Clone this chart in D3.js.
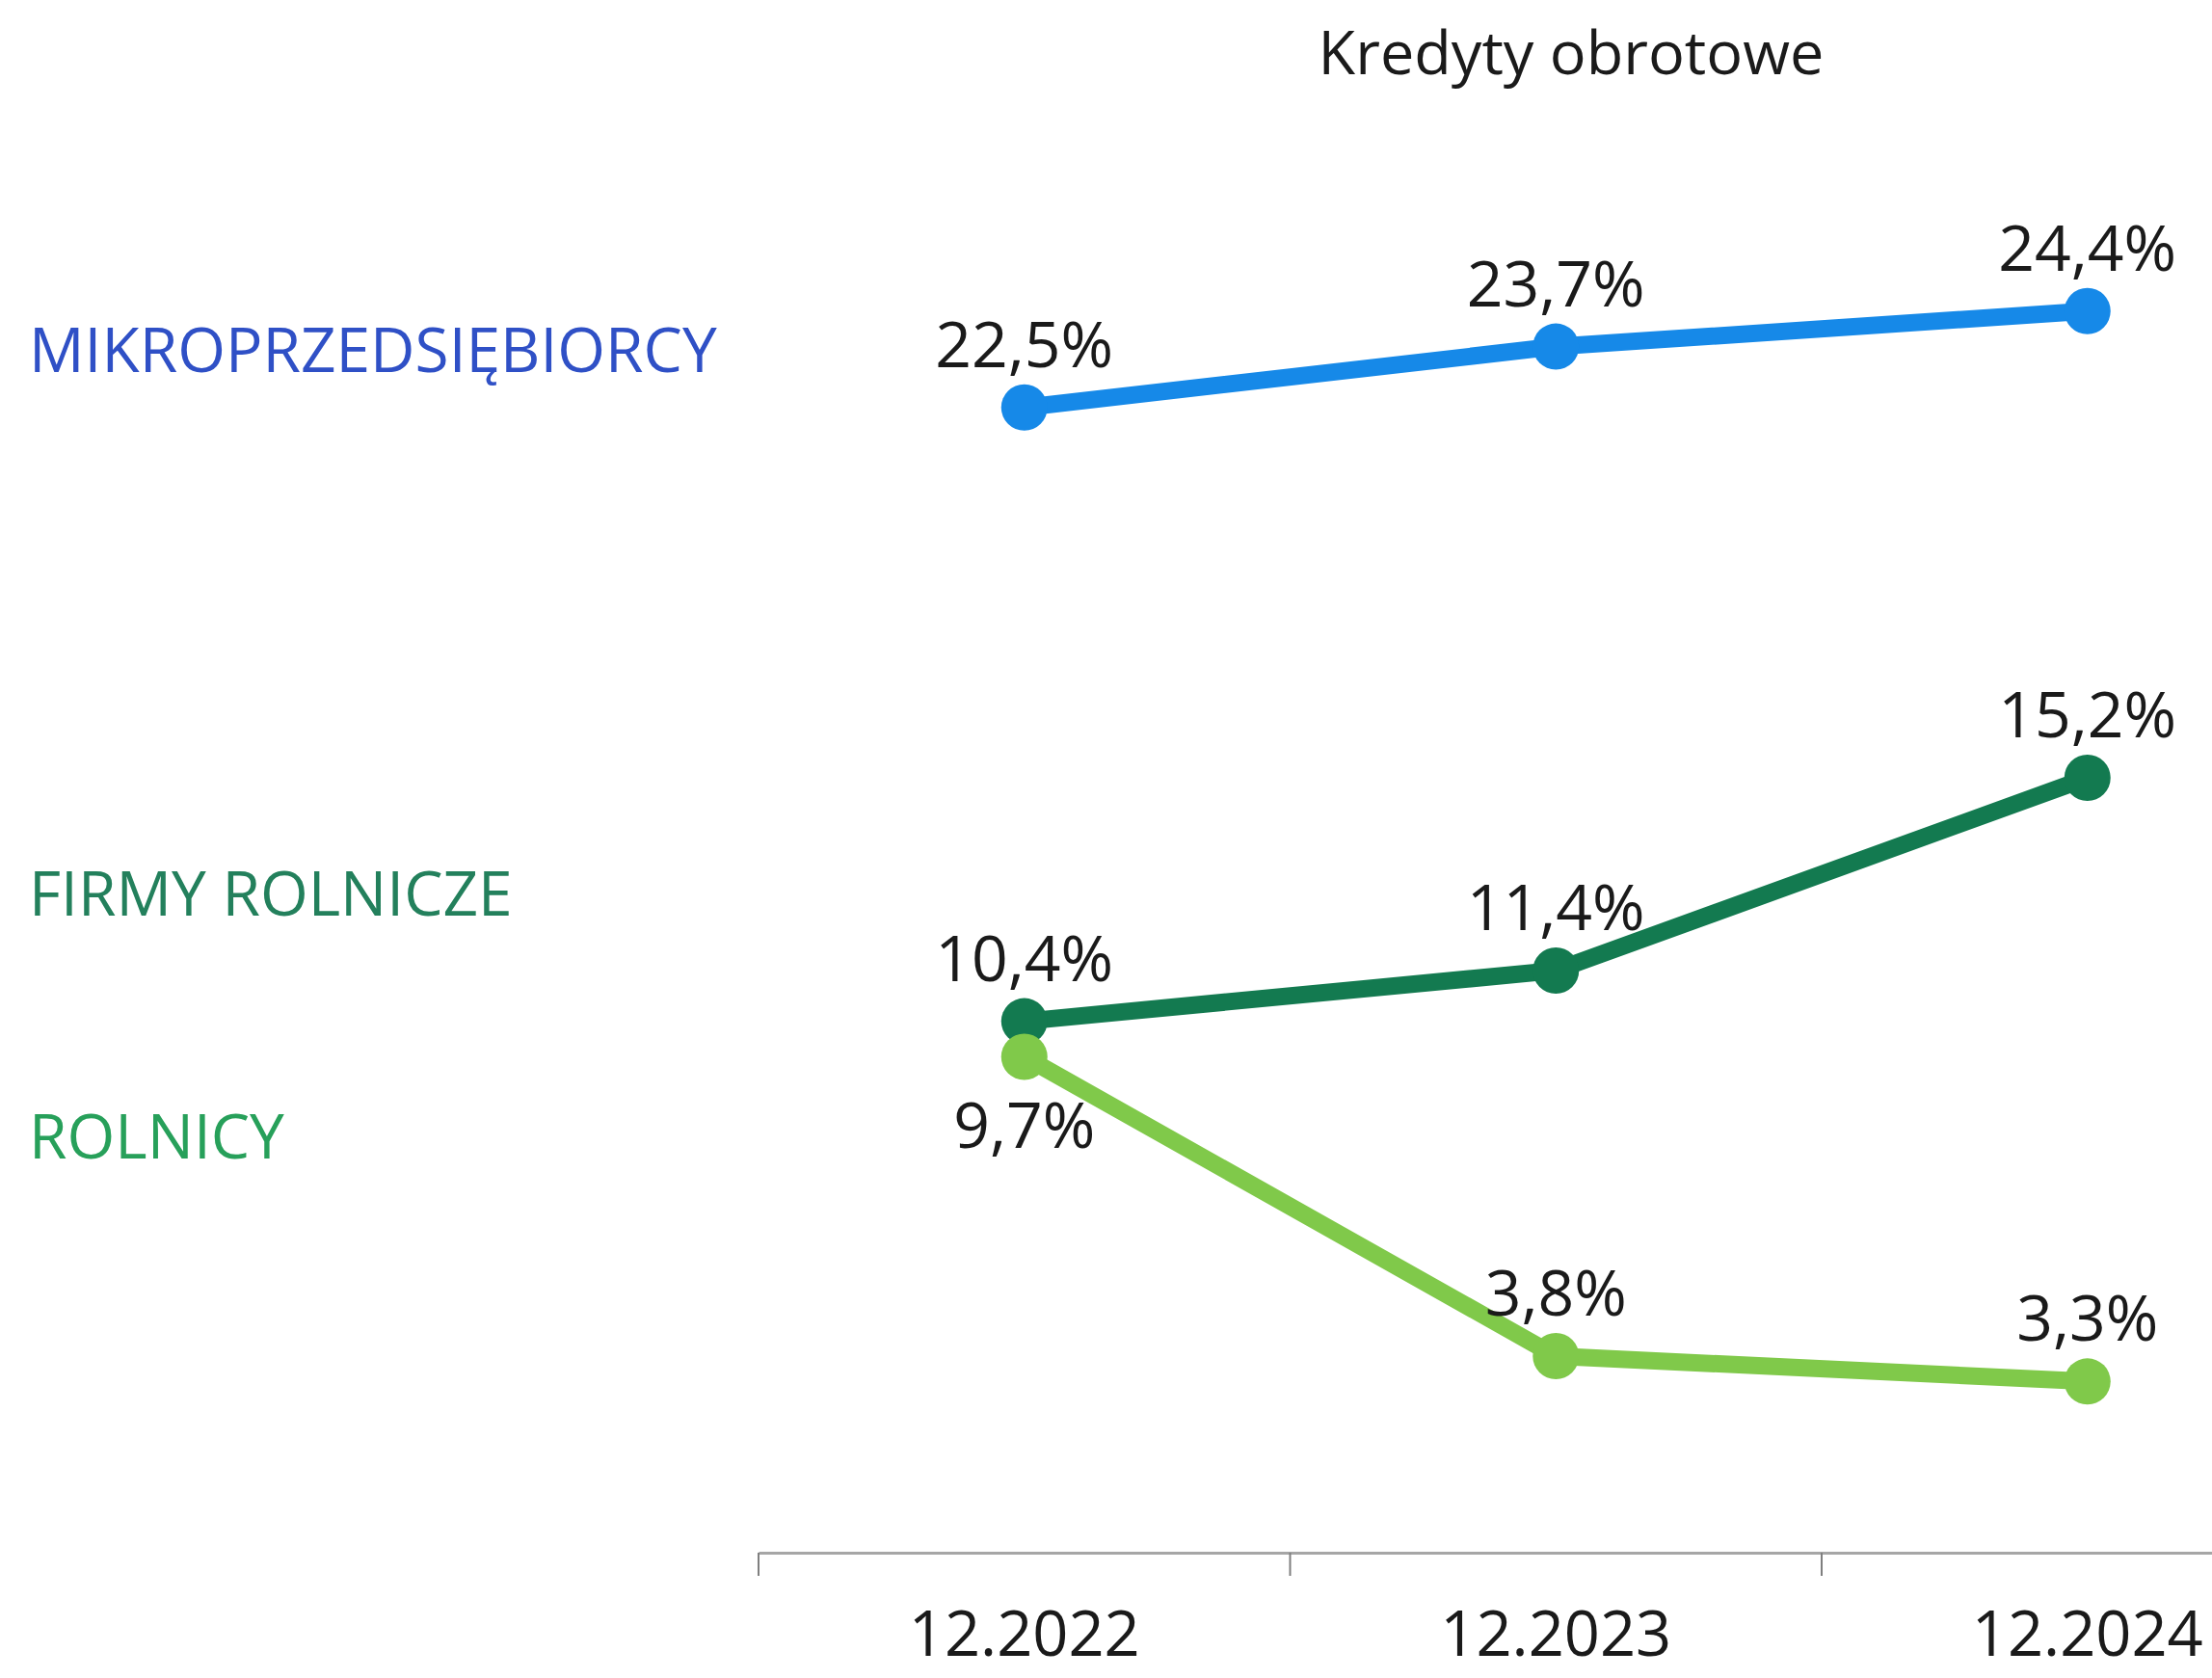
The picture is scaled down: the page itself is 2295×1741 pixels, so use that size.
<!DOCTYPE html>
<html>
<head>
<meta charset="utf-8">
<script src="https://cdn.jsdelivr.net/npm/d3@7"></script>
<style>
  html, body { margin: 0; padding: 0; background: #fff; overflow: hidden; }
  svg { display: block; font-family: "Open Sans", sans-serif; }
</style>
</head>
<body>
<svg id="chart" width="2295" height="1741"></svg>
<script>
var title = "Kredyty obrotowe";
var periods = ["12.2022", "12.2023", "12.2024"];
var seriesNames = ["MIKROPRZEDSIĘBIORCY", "FIRMY ROLNICZE", "ROLNICY"];
var mikro = [22.5, 23.7, 24.4];
var firmyRolnicze = [10.4, 11.4, 15.2];
var rolnicy = [9.7, 3.8, 3.3];

var lineColors = ["#1689e8", "#137a50", "#80c94a"];
var nameColors = ["#2f50c6", "#23805c", "#27a05a"];

var series = [
    { name: seriesNames[0], values: mikro, line: lineColors[0], label: nameColors[0], below: [false, false, false] },
    { name: seriesNames[1], values: firmyRolnicze, line: lineColors[1], label: nameColors[1], below: [false, false, false] },
    { name: seriesNames[2], values: rolnicy, line: lineColors[2], label: nameColors[2], below: [true, false, false] }
];

var svg = d3.select("#chart");

var x = d3.scaleBand()
    .domain(periods)
    .range([787, 787 + 3 * 551.5])
    .padding(0);
var y = d3.scaleLinear()
    .domain([0, 30])
    .range([1607, 28]);

function fmt(v) {
    return v.toFixed(1).replace(".", ",") + "%";
}

// title
svg.append("text")
    .attr("x", 1630)
    .attr("y", 77)
    .attr("text-anchor", "middle")
    .attr("font-size", "63px")
    .attr("fill", "#1a1a1a")
    .text(title);

// x axis, ticks sit between the categories
var axis = svg.append("g")
    .attr("transform", "translate(0,1611)")
    .call(d3.axisBottom(x).tickSize(0).tickPadding(0));
axis.select(".domain")
    .attr("stroke", "#a6a6a6")
    .attr("stroke-width", 3);
axis.selectAll(".tick text")
    .attr("dy", null)
    .attr("y", 107)
    .attr("font-size", "65px")
    .attr("font-family", "Open Sans, sans-serif")
    .attr("fill", "#1a1a1a");
axis.selectAll(".boundary")
    .data(periods)
    .enter().append("line")
    .attr("class", "boundary")
    .attr("x1", function (d) { return x(d); })
    .attr("x2", function (d) { return x(d); })
    .attr("y1", 0)
    .attr("y2", 24)
    .attr("stroke", "#7f7f7f")
    .attr("stroke-width", 2);

var line = d3.line()
    .x(function (d, i) { return x(periods[i]) + x.bandwidth() / 2; })
    .y(function (d) { return y(d); });

series.forEach(function (s) {
    svg.append("path")
        .datum(s.values)
        .attr("fill", "none")
        .attr("stroke", s.line)
        .attr("stroke-width", 18)
        .attr("d", line);
    svg.selectAll(null)
        .data(s.values)
        .enter().append("circle")
        .attr("cx", function (d, i) { return x(periods[i]) + x.bandwidth() / 2; })
        .attr("cy", function (d) { return y(d); })
        .attr("r", 24)
        .attr("fill", s.line);
});

// value labels drawn last so they sit over the lines
series.forEach(function (s) {
    svg.selectAll(null)
        .data(s.values)
        .enter().append("text")
        .attr("x", function (d, i) { return x(periods[i]) + x.bandwidth() / 2; })
        .attr("y", function (d, i) { return s.below[i] ? y(d) + 95 : y(d) - 42; })
        .attr("text-anchor", "middle")
        .attr("font-size", "66px")
        .attr("fill", "#1a1a1a")
        .text(fmt);
});

// series names on the left
var nameY = [386, 950, 1202];
series.forEach(function (s, i) {
    svg.append("text")
        .attr("x", 30)
        .attr("y", nameY[i])
        .attr("font-size", "64px")
        .attr("fill", s.label)
        .text(s.name);
});
</script>
</body>
</html>
